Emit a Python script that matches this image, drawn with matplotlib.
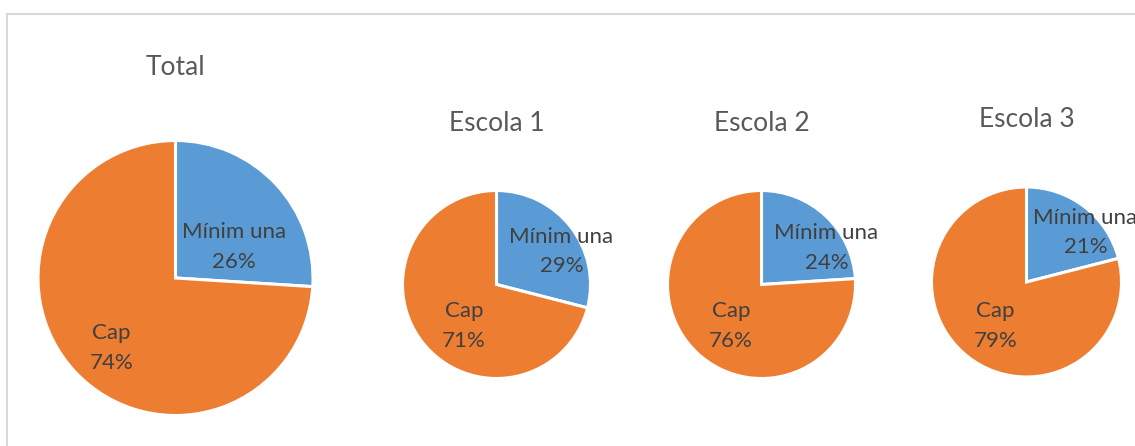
import matplotlib
matplotlib.use("Agg")
import matplotlib.pyplot as plt
from matplotlib.patches import Rectangle

# ---- data ----
groups = ["Total", "Escola 1", "Escola 2", "Escola 3"]
categories = ["Mínim una", "Cap"]
minim_una = [26, 29, 24, 21]
cap = [74, 71, 76, 79]

colors = ["#5B9BD5", "#ED7D31"]
title_color = "#595959"
label_color = "#404040"
plt.rcParams["font.family"] = ["Lato", "DejaVu Sans"]

W, H = 1135, 446
fig = plt.figure(figsize=(W / 100, H / 100), dpi=100)
fig.patch.set_facecolor("white")

# chart frame (extends beyond right/bottom edge)
fig.add_artist(Rectangle((7 / W, -0.1), 1.2, (H - 14) / H + 0.1,
                         transform=fig.transFigure, fill=False,
                         edgecolor="#D9D9D9", linewidth=1.5))

# layout (pixel centres, radii) and label placements (radius units)
centres = [(175.5, 278), (496.5, 284.5), (761.5, 284.5), (1026.5, 282)]
radii = [137.5, 94, 94, 95]
title_baselines = [75, 131, 131, 127]
label_pos = [
    [(0.427, 0.226), (-0.464, -0.511)],
    [(0.69, 0.353), (-0.348, -0.444)],
    [(0.69, 0.39), (-0.326, -0.444)],
    [(0.62, 0.52), (-0.33, -0.466)],
]

for i, g in enumerate(groups):
    cx, cy = centres[i]
    r = radii[i]
    ax = fig.add_axes([(cx - r) / W, (H - cy - r) / H, 2 * r / W, 2 * r / H])
    vals = [minim_una[i], cap[i]]
    wedges, _ = ax.pie(vals, colors=colors, startangle=90, counterclock=False,
                       radius=1, wedgeprops=dict(edgecolor="white", linewidth=2.2))
    for w in wedges:
        w.set_clip_on(False)
    ax.set_xlim(-1, 1)
    ax.set_ylim(-1, 1)
    ax.set_aspect("equal")
    ax.axis("off")
    for k, cat in enumerate(categories):
        lx, ly = label_pos[i][k]
        ax.text(lx, ly, f"{cat}\n{vals[k]}%", ha="center", va="center",
                fontsize=16, color=label_color, linespacing=1.6, clip_on=False)
    fig.text(cx / W, (H - title_baselines[i]) / H, g, ha="center", va="baseline",
             fontsize=19, color=title_color)

fig.savefig("out.png", dpi=100, facecolor="white")
